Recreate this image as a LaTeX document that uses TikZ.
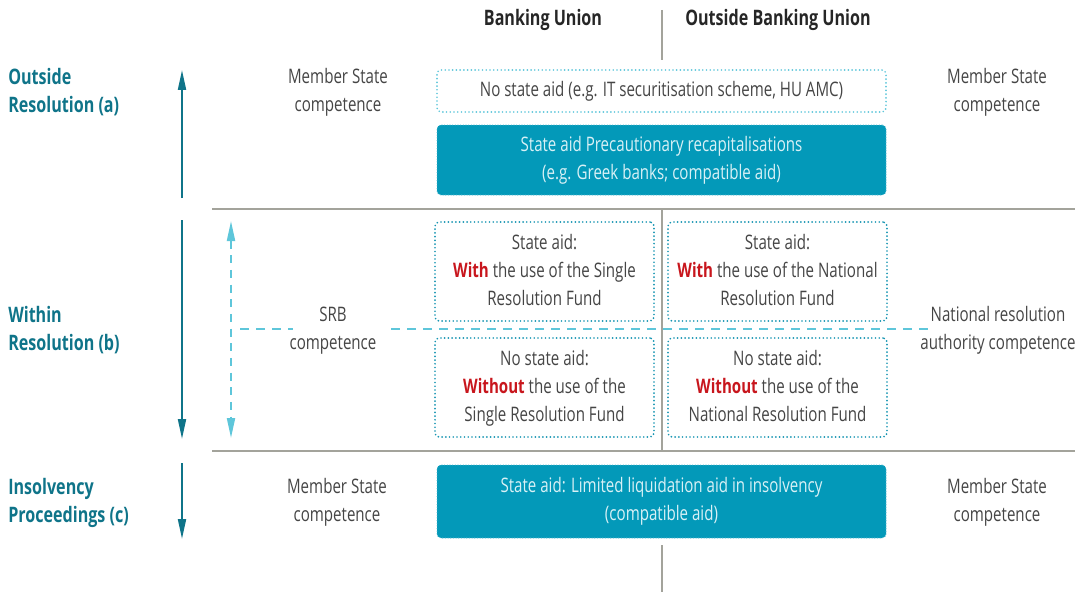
\documentclass[tikz,border=0pt]{standalone}
\usepackage{fontspec}
\setmainfont{Open Sans}[FakeStretch=0.755]
\usetikzlibrary{arrows.meta}
\definecolor{dteal}{HTML}{0F7489}
\definecolor{boxfill}{HTML}{0399B9}
\definecolor{dotteal}{HTML}{1795B2}
\definecolor{ltblue}{HTML}{5EC6DA}
\definecolor{gline}{HTML}{A3A39B}
\definecolor{txtgray}{HTML}{454545}
\definecolor{boxtxt}{HTML}{D9F1F6}
\definecolor{redw}{HTML}{C8161D}
\tikzset{
  lbl/.style={font=\fontsize{15}{21}\selectfont, text=txtgray, align=center, inner sep=0pt},
  side/.style={font=\fontsize{16}{20.5}\selectfont\bfseries, text=dteal, align=left, anchor=west, inner sep=0pt},
  head/.style={font=\fontsize{16}{18}\selectfont\bfseries, text=black!85, inner sep=0pt},
  grayline/.style={draw=gline, line width=1.6pt},
  dotbox/.style={draw=dotteal, line width=1.4pt, dash pattern=on 0pt off 2.8pt, line cap=round, rounded corners=3pt, inner sep=0pt},
  ltdotbox/.style={draw=ltblue, line width=1.4pt, dash pattern=on 0pt off 2.8pt, line cap=round, rounded corners=3pt, inner sep=0pt},
  fillbox/.style={fill=boxfill, draw=boxfill!70!white, line width=0.8pt, dash pattern=on 0pt off 2pt, line cap=round, rounded corners=3pt, inner sep=0pt, text=boxtxt, align=center, font=\fontsize{15}{21}\selectfont},
  mainarrow/.style={draw=dteal, line width=1.5pt, -{Triangle[length=15pt, width=6pt]}},
  dasharrow/.style={draw=ltblue, line width=1.5pt, dash pattern=on 6pt off 5pt, {Triangle[length=15pt, width=6pt]}-{Triangle[length=15pt, width=6pt]}},
  dashline/.style={draw=ltblue, line width=1.5pt, dash pattern=on 7pt off 5pt}
}
\newcommand{\rw}[1]{{\bfseries\color{redw}#1}}
\begin{document}
\begin{tikzpicture}[x=0.75pt,y=-0.75pt]
\useasboundingbox (0,0) rectangle (1082,592);
% headers
\node[head] (hbu) at (543,20) {Banking Union};
\node[head] (hobu) at (778,20) {Outside Banking Union};
\coordinate (vt1) at (662,10); \coordinate (vt2) at (662,60);
\draw[grayline] (vt1) -- (vt2);
% left labels
\node[side] (la) at (8,92) {Outside\\Resolution (a)};
\node[side] (lb) at (8,330) {Within\\Resolution (b)};
\node[side] (lc) at (8,503) {Insolvency\\Proceedings (c)};
% main arrows
\coordinate (a1) at (182,198); \coordinate (a2) at (182,70);
\draw[mainarrow] (a1) -- (a2);
\coordinate (b1) at (182,220); \coordinate (b2) at (182,439);
\draw[mainarrow] (b1) -- (b2);
\coordinate (c1) at (182,463); \coordinate (c2) at (182,539);
\draw[mainarrow] (c1) -- (c2);
% competence labels
\node[lbl] (msl1) at (338,92) {Member State\\competence};
\node[lbl] (msr1) at (997,92) {Member State\\competence};
\node[lbl] (srb) at (333,330.5) {SRB\\competence};
\node[lbl] (nra) at (998,330.5) {National resolution\\authority competence};
\node[lbl] (msl3) at (337,502.5) {Member State\\competence};
\node[lbl] (msr3) at (997,502.5) {Member State\\competence};
% boxes (a)
\node[ltdotbox, minimum width=336.75pt, minimum height=31.5pt, lbl] (nosa) at (661.5,91) {No state aid (e.g. IT securitisation scheme, HU AMC)};
\node[fillbox, minimum width=336.75pt, minimum height=52.5pt] (prec) at (661.5,160) {State aid Precautionary recapitalisations\\(e.g. Greek banks; compatible aid)};
% grid lines
\coordinate (h1l) at (212,209); \coordinate (h1r) at (1075,209);
\coordinate (h2l) at (212,451); \coordinate (h2r) at (1075,451);
\coordinate (vm1) at (662,209); \coordinate (vm2) at (662,451);
\draw[grayline] (h1l) -- (h1r);
\draw[grayline] (h2l) -- (h2r);
\draw[grayline] (vm1) -- (vm2);
% dashed
\coordinate (d1) at (231,221); \coordinate (d2) at (231,438);
\draw[dasharrow] (d1) -- (d2);
\coordinate (e1) at (240,329); \coordinate (e2) at (293,329);
\coordinate (e3) at (391,329); \coordinate (e4) at (930,329);
\draw[dashline] (e1) -- (e2);
\draw[dashline] (e3) -- (e4);
% resolution boxes
\node[dotbox, fill=white, minimum width=164.25pt, minimum height=74.25pt, lbl] (wsrf) at (544.5,271.5) {\strut State aid:\\\rw{With} the use of the Single\\Resolution Fund\strut};
\node[dotbox, fill=white, minimum width=164.25pt, minimum height=74.25pt, lbl] (wnrf) at (777.5,271.5) {\strut State aid:\\\rw{With} the use of the National\\Resolution Fund\strut};
\node[dotbox, fill=white, minimum width=164.25pt, minimum height=74.25pt, lbl] (wosrf) at (544.5,387.5) {\strut No state aid:\\\rw{Without} the use of the\\Single Resolution Fund\strut};
\node[dotbox, fill=white, minimum width=164.25pt, minimum height=74.25pt, lbl] (wonrf) at (777.5,387.5) {\strut No state aid:\\\rw{Without} the use of the\\National Resolution Fund\strut};
% insolvency box
\node[fillbox, minimum width=336.75pt, minimum height=54.75pt] (liq) at (661.5,501.5) {State aid: Limited liquidation aid in insolvency\\(compatible aid)};
\coordinate (vb1) at (662,545); \coordinate (vb2) at (662,592);
\draw[grayline] (vb1) -- (vb2);
\end{tikzpicture}
\end{document}
